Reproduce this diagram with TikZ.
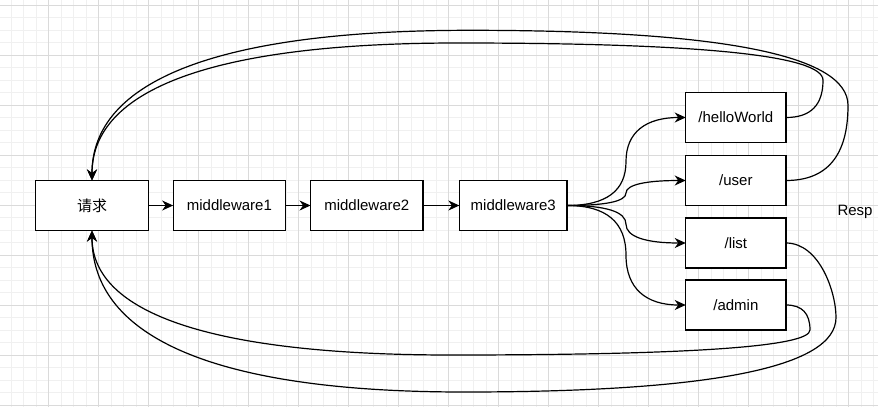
\documentclass[tikz,border=0pt]{standalone}
\usepackage{fontspec}
\setmainfont{Liberation Sans}
\newfontfamily\cjk{Noto Sans CJK SC}
\usetikzlibrary{arrows.meta}
\definecolor{gridminor}{HTML}{F0F0F0}
\definecolor{gridmajor}{HTML}{DADADA}
\tikzset{
  box/.style={draw=black, line width=1.3pt, fill=white, minimum height=50pt, inner sep=0pt, outer sep=0pt, font=\fontsize{15}{18}\selectfont},
  conn/.style={line width=1.2pt, -{Stealth[length=11pt,width=10pt,inset=3.5pt]}},
}
\begin{document}
\begin{tikzpicture}[x=1pt,y=-1pt]
\useasboundingbox (0,0) rectangle (878,407);
\fill[white] (0,0) rectangle (878,407);
\begin{scope}
\clip (0,0) rectangle (878,407);
\foreach \i in {0,...,72} {
  \draw[gridminor, line width=0.8pt] ({-1.5+12.5*\i},0) -- ({-1.5+12.5*\i},407);
}
\foreach \i in {0,...,33} {
  \draw[gridminor, line width=0.8pt] (0,{-7.5+12.5*\i}) -- (878,{-7.5+12.5*\i});
}
\foreach \i in {0,...,18} {
  \draw[gridmajor, line width=0.8pt] ({-1.5+50*\i},0) -- ({-1.5+50*\i},407);
}
\foreach \i in {0,...,8} {
  \draw[gridmajor, line width=0.8pt] (0,{5+50*\i}) -- (878,{5+50*\i});
}
\end{scope}

\node[box, minimum width=112.5pt] (req) at (92,205.5) {\cjk 请求};
\node[box, minimum width=112.5pt] (m1) at (229.4,205.5) {middleware1};
\node[box, minimum width=112.5pt] (m2) at (366.8,205.5) {middleware2};
\node[box, minimum width=107.7pt] (m3) at (513.2,205.5) {middleware3};
\node[box, minimum width=100.3pt] (hw) at (735.85,117.5) {/helloWorld};
\node[box, minimum width=100.3pt] (user) at (735.85,180.5) {/user};
\node[box, minimum width=100.3pt] (list) at (735.85,243) {/list};
\node[box, minimum width=100.3pt] (admin) at (735.85,305) {/admin};
\node[font=\fontsize{15}{18}\selectfont] (resp) at (855,212) {Resp};

\draw[conn] (req) -- (m1);
\draw[conn] (m1) -- (m2);
\draw[conn] (m2) -- (m3);

\draw[conn] (m3.east) .. controls (606.3,205.5) and (626,190.8) .. (626,161.5)
  .. controls (626,132.2) and (645.9,117.5) .. (hw.west);
\draw[conn] (m3.east) .. controls (606.3,205.5) and (626,201.3) .. (626,193)
  .. controls (626,184.7) and (645.9,180.5) .. (user.west);
\draw[conn] (m3.east) .. controls (606.3,205.5) and (626,211.75) .. (626,224.25)
  .. controls (626,236.75) and (645.9,243) .. (list.west);
\draw[conn] (m3.east) .. controls (606.3,205.5) and (626,222.1) .. (626,255.25)
  .. controls (626,288.4) and (645.9,305) .. (admin.west);

\draw[conn] (hw.east) .. controls (810.7,117.5) and (823,105.1) .. (823,80.25)
  .. controls (823,55.4) and (701.2,43) .. (457.5,43)
  .. controls (213.8,43) and (92,89) .. (req.north);
\draw[conn] (user.east) .. controls (827.3,180.5) and (848,155.4) .. (848,105.4)
  .. controls (848,55.3) and (722,30.3) .. (470,30.3)
  .. controls (218,30.3) and (92,80.5) .. (req.north);
\draw[conn] (list.east) .. controls (819.3,243) and (836,291.7) .. (836,317.5)
  .. controls (836,367.2) and (712,392) .. (464,392)
  .. controls (216,392) and (92,338) .. (req.south);
\draw[conn] (admin.east) .. controls (802,305) and (810,313.3) .. (810,330)
  .. controls (810,346.7) and (690.3,355) .. (451,355)
  .. controls (211.7,355) and (92,313.3) .. (req.south);
\end{tikzpicture}
\end{document}
